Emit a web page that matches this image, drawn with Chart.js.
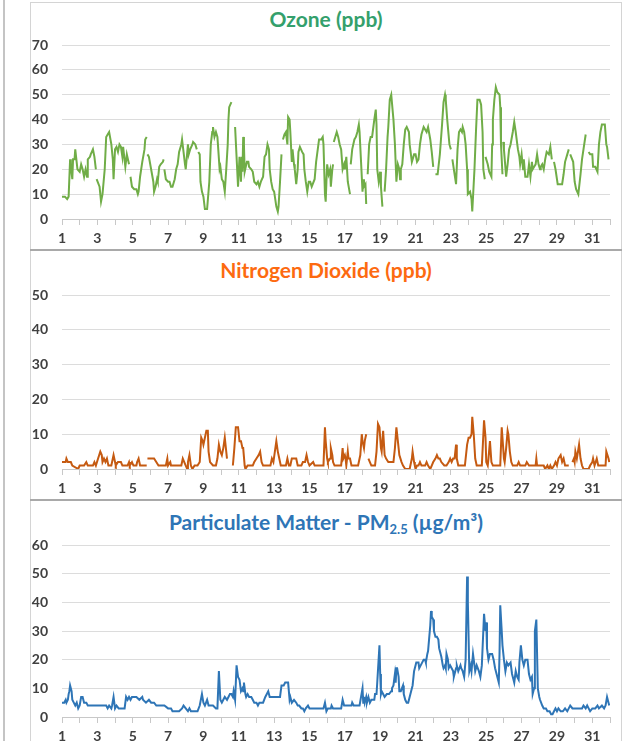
<!DOCTYPE html>
<html>
<head>
<meta charset="utf-8">
<script src="https://cdn.jsdelivr.net/npm/chart.js@4.4.1/dist/chart.umd.min.js"></script>
<style>
  html, body { margin: 0; padding: 0; background: #fff; overflow: hidden; }
  body { width: 634px; height: 741px; position: relative; font-family: Lato, 'Open Sans', sans-serif; }
  .strip { position: absolute; left: 3px; top: 0; width: 2px; height: 741px; background: #c4c4c4; }
  .frame { position: absolute; left: 30px; top: 2px; width: 590px; height: 760px; border: 1px solid #d4d4d4; }
  .sep { position: absolute; left: 30px; width: 592px; height: 2px; background: #a9a9a9; }
  .title { position: absolute; left: 31px; width: 590px; text-align: center; font-weight: bold; font-size: 21px; line-height: 24px; }
  .title sub { font-size: 13px; vertical-align: -4px; line-height: 0; }
  .panel { position: absolute; left: 31px; width: 590px; }
</style>
</head>
<body>
<div class="strip"></div>
<div class="frame"></div>
<div class="sep" style="top:249px"></div>
<div class="sep" style="top:499px"></div>

<div class="title" style="top:7px;color:#34a06c">Ozone (ppb)</div>
<div class="title" style="top:258px;color:#fd6a10">Nitrogen Dioxide (ppb)</div>
<div class="title" style="top:510px;color:#2e75b6">Particulate Matter - PM<sub>2.5</sub> (µg/m³)</div>

<div class="panel" style="top:3px;height:247px"><canvas id="ozone"></canvas></div>
<div class="panel" style="top:253px;height:247px"><canvas id="no2"></canvas></div>
<div class="panel" style="top:503px;height:245px"><canvas id="pm"></canvas></div>

<script>
// x values are hours since the start of day 1, y values as read off the chart
// [hour, null] marks a break in the record
const ozoneReadings = [
  [0,9],[4,9],[7,8],[9,9],[11,24],[12,21],[14,16],[15,24],[17,24],[18,28],[21,20],[24,19],[26,22],[28,20],[30,17],[32,20],[34,17],[35,24],[38,25],[39,26],[42,28],[44,25],[46,20],[46.5,null],
  [47,16],[51,13],[53,7],[55,10],[58,20],[60,33],[62,34],[64,35],[67,30],[69,24],[70,16],[72,28],[74,29],[76,27],[78,30],[80,29],[82,25],[83,29],[86,21],[88,26],[91,22],[92,null],
  [93,17],[95,13],[98,12],[101,12],[103,10],[104,11],[106,17],[109,23],[112,28],[113,32],[115,33],[115.5,null],
  [116,26],[118,25],[121,20],[124,15],[125,11],[127,13],[129,16],[130,15],[132,21],[134,22],[137,23],[138,24],[138.5,null],
  [139,20],[141,16],[144,15],[146,15],[148,13],[150,13],[153,16],[155,20],[157,22],[159,27],[162,30],[163,32],[165,27],[167,22],[168,20],[171,30],[172,26],[174,28],[177,30],[178,31],[181,30],[183,28],[184,null],
  [185,27],[187,26],[188,15],[190,11],[192,9],[194,4],[197,4],[200,15],[202,30],[204,35],[205,37],[207,33],[209,35],[211,33],[214,20],[215,21],[217,16],[219,15],[221,11],[223,20],[225,30],[226,40],[227,45],[230,47],[232,null],
  [235,37],[239,13],[241,25],[243,15],[244,25],[245,19],[246,33],[247,30],[248,19],[251,23],[253,23],[254,21],[257,20],[259,19],[261,15],[264,14],[266,15],[268,13],[270,15],[273,17],[275,25],[277,26],[279,30],[281,28],[282,20],[284,15],[286,12],[288,11],[291,5],[293,3],[294,5],[296,15],[298,26],[299,null],
  [300,32],[302,34],[304,35],[306,30],[307,41],[309,40],[310,35],[312,23],[313,28],[315,22],[316,20],[318,14],[320,20],[321,27],[323,29],[326,27],[328,26],[329,20],[331,15],[333,11],[335,15],[337,15],[339,13],[343,16],
  [345,23],[349,32],[352,32],[354,33],[355,30],[357,10],[358,7],[359,15],[360,22],[362,18],[364,20],[365,13],[367,20],[368,22],[368.5,null],
  [369,31],[370,32],[373,35],[375,33],[377,30],[379,28],[381,20],[383,22],[384,20],[386,25],[388,15],[391,10],[391.5,null],
  [392,22],[394,28],[397,32],[399,33],[401,35],[403,38],[404,35],[406,23],[408,11],[409,16],[410,13],[412,14],[413,6],[414,null],
  [415,18],[417,30],[419,33],[421,33],[424,40],[426,44],[427,38],[428,20],[430,15],[432,19],[433,13],[435,5],[436,null],
  [438,11],[440,20],[442,33],[443,37],[445,48],[447,50],[448,50],[450,40],[452,30],[454,15],[456,22],[458,20],[459,16],[460,20],[462,22],[464,30],[466,36],[468,37],[471,35],[472,30],[475,23],[478,26],[480,26],[482,23],[484,24],[486,30],[488,34],[491,37],[493,36],[495,35],[497,37],[500,32],[502,27],[504,21],[505,null],
  [507,18],[510,18],[513,26],[516,38],[518,47],[520,50],[521,48],[523,40],[526,30],[528,28],[529,null],
  [530,24],[532,20],[535,14],[537,28],[539,35],[541,36],[543,35],[544,37],[546,35],[548,30],[550,20],[551,10],[554,11],[556,8],[557,3],[560,20],[562,35],[564,48],[567,48],[569,46],[571,35],[572,20],[574,16],[574.5,null],
  [575,25],[578,22],[580,19],[583,17],[584,30],[585,40],[587,48],[589,53],[591,51],[594,50],[595,45],[596,30],[598,18],[598.5,null],
  [599,31],[600,28],[603,17],[605,22],[607,28],[609,30],[612,35],[614,39],[616,35],[619,28],[621,25],[622,22],[624,26],[626,20],[627,24],[629,17],[632,17],[634,22],[636,17],[638,23],[639,20],[641,21],[643,22],[645,26],[647,22],[649,20],[650,21],[652,22],[654,20],[656,24],[658,27],[661,26],[663,29],[665,24],[666,null],
  [668,23],[670,20],[673,14],[679,14],[681,18],[683,23],[686,26],[688,28],[689,null],
  [690,26],[694,23],[696,15],[698,12],[701,10],[704,18],[706,24],[708,28],[711,34],[713,null],
  [715,27],[717,26],[720,26],[721,21],[724,21],[727,19],[729,30],[731,35],[733,38],[737,38],[739,30],[740,29],[742,24]
];

const no2Readings = [
  [0,2],[5,2],[6,3],[8,2],[12,2],[14,1],[22,0],[24,1],[30,1],[33,2],[35,1],[42,1],[44,2],[46,1],[49,3],[52,5],[54,4],[55,2],[57,3],[59,2],[61,3],[63,1],[67,1],[69,3],[70,4],[72,2],[73,1],[76,2],[80,2],[82,1],[89,1],[91,2],[92,1],[95,2],[97,1],[101,1],[102,2],[104,3],[106,1],[115,1],[115.5,null],
  [116,3],[125,3],[128,2],[131,1],[141,1],[143,3],[144,1],[147,2],[148,1],[162,1],[164,3],[166,2],[168,1],[170,0],[171,2],[173,4],[175,1],[177,0],[180,1],[184,1],[187,2],[189,9],[191,8],[192,7],[196,11],[198,11],[199,5],[201,2],[205,1],[209,1],[211,3],[213,7],[215,5],[217,4],[219,6],[221,9],[224,3],[228,null],
  [232,1],[234,6],[236,12],[239,12],[241,8],[243,8],[245,6],[246,6],[248,1],[249,0],[252,1],[259,1],[261,2],[264,3],[267,4],[269,5],[271,2],[273,1],[283,1],[285,3],[287,2],[291,8],[293,5],[295,3],[297,1],[304,1],[306,3],[308,1],[310,1],[312,3],[318,3],[320,1],[325,1],[327,2],[330,2],[332,4],[334,2],
  [336,1],[341,2],[343,1],[355,1],[357,12],[358,8],[360,3],[361,2],[364,3],[365,6],[367,4],[368,2],[370,1],[379,1],[381,6],[382,3],[384,4],[385,3],[386,1],[388,5],[389,3],[391,3],[393,1],[402,1],[404,3],[405,4],[407,10],[408,8],[410,6],[411,8],[413,10],[414,null],
  [416,3],[418,2],[420,1],[425,1],[427,5],[429,13],[431,12],[433,6],[434,5],[436,11],[438,4],[440,3],[443,2],[450,2],[452,6],[454,12],[456,8],[458,4],[461,2],[463,1],[466,0],[472,0],[475,3],[476,5],[478,2],[479,1],[480,0],[482,1],[484,1],[486,2],[488,1],[493,1],[495,2],[497,1],[500,0],[502,1],[504,2],[507,3],[509,4],[511,3],[513,3],[515,2],[519,1],[522,1],[525,2],[527,3],[529,2],[531,3],[533,3],[535,7],[536,3],[538,1],[547,1],[550,7],[552,9],[554,9],[556,10],[557,15],[559,10],[561,3],[563,1],[570,1],[573,14],[575,9],[576,2],[578,1],[579,3],[581,8],[583,2],[585,1],[595,1],[597,12],[600,3],[601,2],[603,6],[605,11],[606,10],[608,5],[610,2],[612,1],[618,1],[620,2],[622,1],[629,1],[631,2],[634,1],[643,1],[644,3],[645,1],[654,1],[656,0],[659,1],[661,0],[663,1],[665,0],[668,1],[670,2],[672,1],[674,3],[677,4],[679,2],[681,3],[683,1],[688,1],[690,null],
  [693,2],[695,3],[696,2],[697,5],[699,3],[702,7],[704,3],[706,1],[708,0],[715,0],[717,1],[720,2],[721,3],[723,1],[726,3],[728,1],[738,1],[739,5],[742,3],[743,2]
];

const pmReadings = [
  [0,5],[3,5],[5,6],[6,5],[8,6],[9,8],[10,9],[11,11],[13,9],[14,6],[16,5],[18,4],[20,5],[22,3],[24,4],[26,7],[28,7],[30,5],[33,5],[35,4],[51,4],[60,4],[62,3],[64,4],[67,3],[68,4],[70,7],[72,3],[74,4],[77,3],[85,3],[87,7],[89,6],[91,7],[93,6],[95,7],[101,7],[105,6],[109,7],[110,6],[114,5],[118,6],[121,5],[125,5],[128,4],[139,4],[144,3],[148,3],[150,2],[159,2],[163,3],[165,4],[168,3],[171,2],[173,3],[175,2],[184,2],[187,4],[190,8],[192,5],[194,4],[197,6],[199,4],[205,4],[209,3],[211,3],[213,16],[215,6],[217,5],[219,6],[221,7],[224,6],[226,7],[228,8],[230,8],[232,7],[233,9],[235,6],[237,18],[239,14],[241,13],[243,9],[245,10],[246,9],[247,12],[249,8],[250,7],[252,8],[254,7],[257,7],[259,6],[261,5],[264,5],[266,4],[268,5],[273,5],[276,7],[280,9],[282,7],[293,7],[296,7],[298,11],[301,11],[303,12],[307,12],[309,6],[310,7],[312,5],[315,6],[318,5],[320,4],[322,4],[325,3],[327,3],[329,2],[331,3],[334,4],[336,3],
  [355,3],[357,5],[359,2],[361,3],[365,3],[366,4],[368,3],[379,3],[381,6],[383,4],[393,4],[394,5],[396,4],[404,4],[406,7],[408,10],[409,5],[410,7],[411,5],[413,7],[414,5],[416,7],[418,5],[420,6],[424,6],[425,8],[427,8],[428,12],[431,25],[432,15],[433,8],[434,9],[436,8],[438,7],[441,8],[444,8],[447,9],[448,10],[450,11],[452,15],[453,12],[454,17],[455,17],[457,14],[458,9],[460,9],[463,11],[464,8],[466,6],[468,5],[470,5],[472,7],[474,9],[476,11],[478,16],[481,19],[484,19],[485,17],[487,18],[491,20],[493,20],[494,19],[496,22],[497,23],[500,32],[501,37],[502,35],[504,34],[505,30],[507,28],[509,28],[511,27],[512,24],[515,21],[517,18],[518,17],[520,18],[521,17],[522,22],[524,20],[525,17],[527,18],[529,17],[531,16],[532,14],[535,17],[536,18],[538,16],[541,18],[542,17],[544,16],[545,15],[546,14],[548,20],[550,49],[551,40],[553,16],[555,18],[556,16],[558,22],[560,18],[561,16],[563,18],[566,16],[568,14],[570,18],[572,30],[573,36],[575,30],[576,33],[577,24],[579,20],[581,22],[584,22],[586,20],[588,17],[590,15],[593,12],[594,22],[595,39],[597,30],[598,25],[600,20],[602,16],[604,19],[606,18],[609,19],[611,15],[613,13],[614,12],[616,16],[618,14],[620,13],[621,19],[623,25],[625,20],[627,18],[629,20],[632,20],[634,15],[636,13],[638,14],[639,8],[641,10],[642,30],[644,34],[646,10],[648,7],[649,6],[652,4],[654,3],[657,3],[659,2],[662,2],[664,1],[666,1],[668,2],[670,3],[672,2],[674,3],[677,2],[680,2],[683,3],[686,2],[688,3],[690,4],[693,3],[699,3],[706,3],[708,4],[711,3],[713,4],[715,3],[717,2],[720,3],[724,3],[727,4],[729,3],[733,4],[736,3],[738,4],[740,7],[742,5],[743,4]
];

// axis settings
const dayTicks = [1, 3, 5, 7, 9, 11, 13, 15, 17, 19, 21, 23, 25, 27, 29, 31];
const ozoneMax = 70;
const no2Max = 50;
const pmMax = 60;

const tickFont = { family: 'Lato', size: 14, weight: 'bold' };

function makeChart(id, readings, color, yMax) {
  const ctx = document.getElementById(id);
  return new Chart(ctx, {
    type: 'line',
    data: {
      datasets: [
        {
          data: readings.map((r) => ({ x: r[0], y: r[1] })),
          borderColor: color,
          borderWidth: 2,
          pointRadius: 0,
          tension: 0,
          spanGaps: false,
        },
      ],
    },
    options: {
      responsive: true,
      maintainAspectRatio: false,
      animation: false,
      layout: { padding: { top: 42, right: 11, left: 0, bottom: 0 } },
      plugins: {
        legend: { display: false },
        tooltip: { enabled: false },
      },
      scales: {
        x: {
          type: 'linear',
          min: 0,
          max: 744,
          afterFit: (s) => {
            s.height = 31;
          },
          ticks: {
            stepSize: 24,
            autoSkip: false,
            maxRotation: 0,
            padding: 5,
            color: '#404040',
            font: tickFont,
            callback: (v) => {
              const day = v / 24 + 1;
              return dayTicks.includes(day) ? String(day) : '';
            },
          },
          grid: {
            drawOnChartArea: false,
            drawTicks: true,
            tickLength: 6,
            color: '#c8c8c8',
          },
          border: { color: '#c8c8c8', width: 1 },
        },
        y: {
          min: 0,
          max: yMax,
          afterFit: (s) => {
            s.width = 31;
          },
          ticks: {
            stepSize: 10,
            padding: 14,
            color: '#404040',
            font: tickFont,
          },
          grid: {
            drawTicks: false,
            color: '#dcdcdc',
          },
          border: { display: false },
        },
      },
    },
  });
}

makeChart('ozone', ozoneReadings, '#70ad47', ozoneMax);
makeChart('no2', no2Readings, '#c55a11', no2Max);
makeChart('pm', pmReadings, '#2e75b6', pmMax);
</script>
</body>
</html>
